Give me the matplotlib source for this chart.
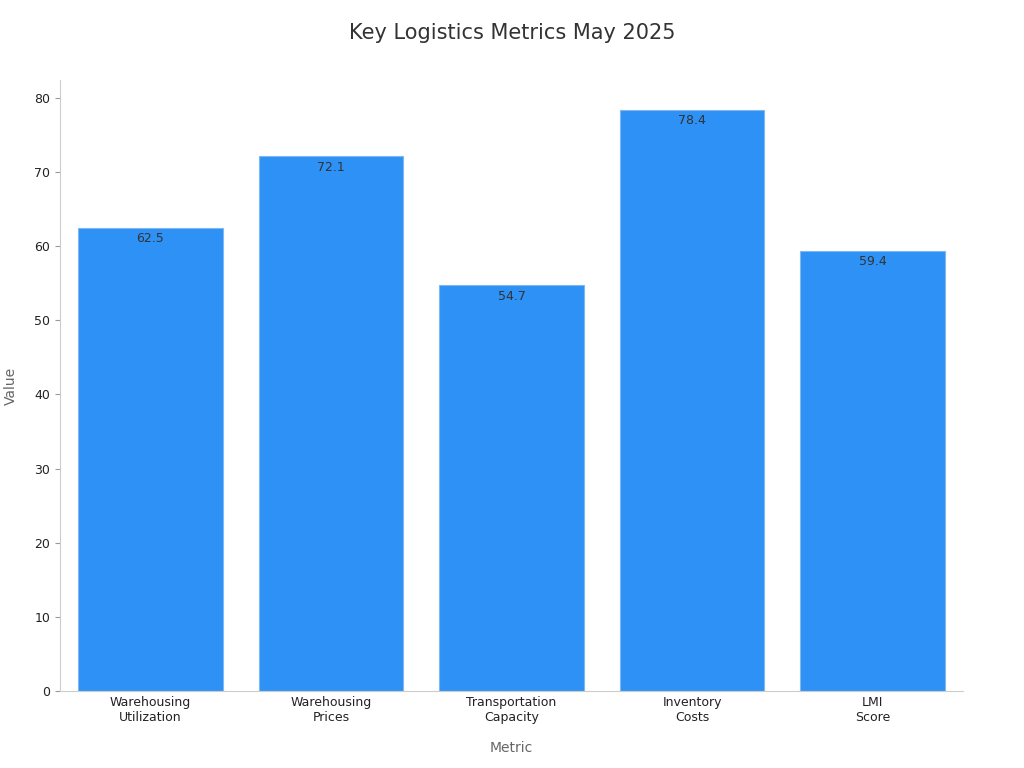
import matplotlib
matplotlib.use("Agg")
import matplotlib.pyplot as plt

categories = ["Warehousing\nUtilization", "Warehousing\nPrices", "Transportation\nCapacity", "Inventory\nCosts", "LMI\nScore"]
values = [62.5, 72.1, 54.7, 78.4, 59.4]
yticks = [0, 10, 20, 30, 40, 50, 60, 70, 80]

fig = plt.figure(figsize=(10.24, 7.68), dpi=100)
ax = fig.add_axes([60/1024, 1-691/768, 903/1024, 611/768])
x = range(len(categories))
bars = ax.bar(x, values, width=0.8, color="#2E91F5", edgecolor="#7FB8F0", linewidth=0.8)
for xi, v in zip(x, values):
    ax.text(xi, v - 0.6, f"{v}", ha="center", va="top", fontsize=9, color="#333333")
ax.set_xlim(-0.5, 4.5)
ax.set_ylim(0, 82.4)
ax.set_yticks(yticks)
ax.set_xticks(list(x))
ax.set_xticklabels(categories, fontsize=9, color="#222222")
ax.tick_params(axis="y", labelsize=9, colors="#222222")
ax.tick_params(axis="both", color="#999999")
ax.tick_params(axis="x", length=0)
for s in ["top", "right"]:
    ax.spines[s].set_visible(False)
for s in ["left", "bottom"]:
    ax.spines[s].set_color("#cccccc")
ax.set_xlabel("Metric", fontsize=10, color="#666666", labelpad=12)
ax.set_ylabel("Value", fontsize=10, color="#666666", labelpad=12)
fig.suptitle("Key Logistics Metrics May 2025", fontsize=15, color="#333333", y=1-33/768, va="center")
fig.savefig("out.png", dpi=100)
